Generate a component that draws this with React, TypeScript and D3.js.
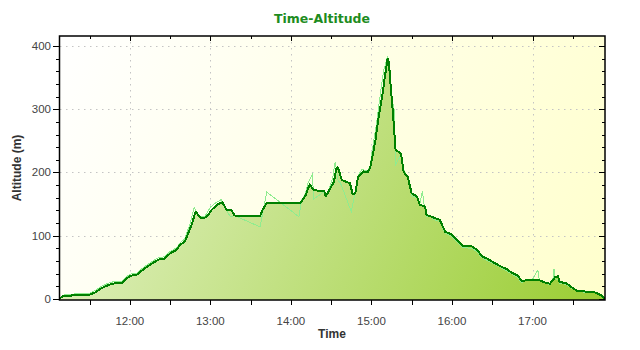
import React from 'react';
import * as d3 from 'd3';

// Smoothed altitude track (dark line)
const trackTimes = [
  '11:08','11:10','11:14','11:19','11:24','11:29','11:34','11:39','11:44','11:49','11:54','11:58',
  '12:01','12:05','12:09','12:15','12:21','12:26','12:30','12:35','12:37','12:41','12:42','12:46','12:49','12:53','12:57',
  '13:01','13:05','13:09','13:12','13:16','13:18','13:37','13:39','13:42',
  '14:06','14:08','14:11','14:14','14:17','14:22','14:25','14:26','14:28','14:32','14:34','14:35','14:38','14:44','14:46','14:48','14:50','14:54','14:57','14:59',
  '15:01','15:03','15:05','15:08','15:10','15:12','15:13','15:14','15:16','15:18','15:22','15:24','15:27','15:30','15:34','15:36','15:40','15:41','15:46','15:51','15:55','15:59',
  '16:04','16:08','16:10','16:15','16:19','16:22','16:26','16:30','16:36','16:41','16:45','16:49','16:52','16:56',
  '17:05','17:08','17:13','17:17','17:19','17:20','17:25','17:33','17:38','17:46','17:51','17:54'
];
const trackAltitudes = [
  1,4,5,6,7,6,10,17,22,25,25,33,
  37,38,45,54,62,64,72,78,85,91,96,117,138,128,129,
  141,149,153,141,140,132,131,141,152,
  151,154,164,181,172,171,170,162,170,185,207,208,188,183,166,167,193,202,200,207,
  228,251,283,320,351,380,375,346,294,236,230,201,193,167,162,149,146,133,129,125,106,103,
  93,84,83,83,77,68,64,59,52,47,41,37,28,30,
  30,27,24,35,36,27,25,13,12,11,6,0
];

// Raw GPS altitude (light line)
const rawTimes = [
  '11:08','11:10','11:14','11:19','11:24','11:29','11:34','11:39','11:44','11:49','11:54','11:58',
  '12:01','12:05','12:09','12:15','12:21','12:26','12:30','12:35','12:37','12:41','12:45','12:48','12:51','12:56',
  '13:00','13:04','13:08','13:11','13:15','13:18','13:37','13:42',
  '14:06','14:08','14:11','14:13','14:16','14:17','14:25','14:27','14:31','14:33','14:35','14:37','14:45','14:48','14:50','14:53','14:57','14:59',
  '15:01','15:04','15:07','15:09','15:12','15:13','15:15','15:17','15:18','15:22','15:24','15:27','15:30','15:34','15:36','15:38','15:39','15:41','15:43','15:46','15:51','15:55','15:59',
  '16:04','16:08','16:10','16:15','16:19','16:22','16:26','16:30','16:36','16:41','16:45','16:49','16:52','16:56',
  '17:00','17:04','17:05','17:08','17:13','17:15','17:16','17:17','17:19','17:20','17:25','17:33','17:38','17:46','17:51','17:54'
];
const rawAltitudes = [
  2,6,7,8,9,8,13,20,25,28,27,36,
  40,40,48,57,65,67,75,81,88,95,120,145,130,131,
  145,152,157,144,130,132,114,169,
  130,156,168,185,197,158,170,165,190,217,188,183,138,170,195,205,202,210,
  240,280,330,360,384,365,320,299,212,228,205,190,163,160,150,170,152,130,132,126,122,104,100,
  90,81,81,80,74,66,61,57,50,44,39,34,26,30,
  31,46,30,26,23,28,47,32,30,25,23,12,11,10,5,0
];

const yTickValues = [0, 100, 200, 300, 400];
const xTickLabels = ['12:00', '13:00', '14:00', '15:00', '16:00', '17:00'];

const W = 640;
const H = 350;
const plot = { left: 60, top: 36, right: 605, bottom: 300 };

const parse = d3.timeParse('%H:%M');

export default function App() {
  const track = trackTimes.map((t, i) => ({ t: parse(t) as Date, v: trackAltitudes[i] }));
  const raw = rawTimes.map((t, i) => ({ t: parse(t) as Date, v: rawAltitudes[i] }));

  const x = d3
    .scaleTime()
    .domain([track[0].t, track[track.length - 1].t])
    .range([plot.left, plot.right]);
  const y = d3.scaleLinear().domain([-1.6, 415.8]).range([plot.bottom, plot.top]);

  const area = d3
    .area<{ t: Date; v: number }>()
    .x((d) => x(d.t))
    .y0(plot.bottom)
    .y1((d) => y(d.v));
  const line = d3
    .line<{ t: Date; v: number }>()
    .x((d) => x(d.t))
    .y((d) => y(d.v));

  const majorX = xTickLabels.map((l) => ({ label: l, t: parse(l) as Date }));
  const minorX = x.ticks(d3.timeMinute.every(30) as any);
  const minorY = d3.range(0, 420, 20);

  const font = "'Liberation Sans', Arial, sans-serif";

  return (
    <svg
      width={W}
      height={H}
      style={{ position: 'absolute', left: 0, top: 0, background: '#fff' }}
    >
      <defs>
        <linearGradient
          id="bg"
          gradientUnits="userSpaceOnUse"
          x1={plot.left}
          y1={plot.top}
          x2={plot.right}
          y2={plot.bottom}
        >
          <stop offset="0" stopColor="#ffffff" />
          <stop offset="1" stopColor="#ffffcc" />
        </linearGradient>
        <linearGradient
          id="fill"
          gradientUnits="userSpaceOnUse"
          x1={plot.left}
          y1={plot.top}
          x2={plot.right}
          y2={plot.bottom}
        >
          <stop offset="0" stopColor="#eaf5d4" />
          <stop offset="1" stopColor="#9acd32" />
        </linearGradient>
        <clipPath id="clip">
          <rect x={plot.left} y={plot.top} width={plot.right - plot.left} height={plot.bottom - plot.top} />
        </clipPath>
      </defs>

      <text
        x={322}
        y={23}
        textAnchor="middle"
        fontFamily="'DejaVu Sans', sans-serif"
        fontWeight="bold"
        fontSize={12.5}
        fill="#1e8c1e"
      >
        Time-Altitude
      </text>

      <rect
        x={plot.left}
        y={plot.top}
        width={plot.right - plot.left}
        height={plot.bottom - plot.top}
        fill="url(#bg)"
      />

      {/* grid */}
      <g stroke="#c4c4c4" strokeWidth={1} strokeDasharray="1.5,4.5">
        {yTickValues.map((v) => (
          <line key={'gy' + v} x1={plot.left} x2={plot.right} y1={Math.round(y(v)) + 0.5} y2={Math.round(y(v)) + 0.5} />
        ))}
        {majorX.map((d) => (
          <line key={'gx' + d.label} x1={Math.round(x(d.t)) + 0.5} x2={Math.round(x(d.t)) + 0.5} y1={plot.top} y2={plot.bottom} />
        ))}
      </g>

      <g clipPath="url(#clip)">
        <path d={area(track) || ''} fill="url(#fill)" />
        <path d={line(raw) || ''} fill="none" stroke="#8fec8f" strokeWidth={1} shapeRendering="crispEdges" />
        <path d={line(track) || ''} fill="none" stroke="#008000" strokeWidth={2} strokeLinejoin="round" shapeRendering="crispEdges" />
      </g>

      {/* border */}
      <rect
        x={plot.left - 0.5}
        y={plot.top}
        width={plot.right - plot.left + 0.5}
        height={plot.bottom - plot.top}
        fill="none"
        stroke="#000"
        strokeWidth={1.5}
      />

      {/* axis ticks */}
      <g stroke="#000" strokeWidth={1}>
        {minorY.map((v) => {
          const yy = Math.round(y(v)) + 0.5;
          const major = v % 100 === 0;
          return (
            <g key={'ty' + v}>
              <line x1={plot.left - (major ? 7 : 4)} x2={plot.left} y1={yy} y2={yy} />
              <line x1={plot.right - (major ? 6 : 3)} x2={plot.right} y1={yy} y2={yy} />
            </g>
          );
        })}
        {minorX.map((t, i) => {
          const xx = Math.round(x(t)) + 0.5;
          const major = t.getMinutes() === 0;
          return (
            <g key={'tx' + i}>
              <line x1={xx} x2={xx} y1={plot.bottom} y2={plot.bottom + 5} />
              <line x1={xx} x2={xx} y1={plot.top} y2={plot.top + (major ? 5 : 3)} />
            </g>
          );
        })}
      </g>

      {/* tick labels */}
      <g fontFamily={font} fontSize={11.5} fill="#444">
        {yTickValues.map((v) => (
          <text key={'ly' + v} x={51} y={y(v) + 4} textAnchor="end">
            {v}
          </text>
        ))}
        {majorX.map((d) => (
          <text key={'lx' + d.label} x={x(d.t)} y={325} textAnchor="middle">
            {d.label}
          </text>
        ))}
      </g>

      <text
        x={332}
        y={338}
        textAnchor="middle"
        fontFamily={font}
        fontWeight="bold"
        fontSize={12}
        fill="#333"
      >
        Time
      </text>
      <text
        transform={`translate(21,${(plot.top + plot.bottom) / 2}) rotate(-90)`}
        textAnchor="middle"
        fontFamily={font}
        fontWeight="bold"
        fontSize={12}
        fill="#333"
      >
        Altitude (m)
      </text>
    </svg>
  );
}
